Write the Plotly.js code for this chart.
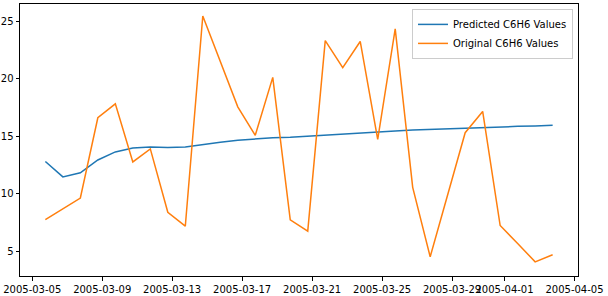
<!DOCTYPE html>
<html>
<head>
<meta charset="utf-8">
<script src="https://cdn.plot.ly/plotly-3.0.1.min.js"></script>
<style>html,body{margin:0;padding:0;background:#fff;}#chart{width:608px;height:296px;}</style>
</head>
<body>
<div id="chart"></div>
<script>
const dates = [
  '2005-03-05 18:00','2005-03-06 18:00','2005-03-07 18:00','2005-03-08 18:00','2005-03-09 18:00',
  '2005-03-10 18:00','2005-03-11 18:00','2005-03-12 18:00','2005-03-13 18:00','2005-03-14 18:00',
  '2005-03-15 18:00','2005-03-16 18:00','2005-03-17 18:00','2005-03-18 18:00','2005-03-19 18:00',
  '2005-03-20 18:00','2005-03-21 18:00','2005-03-22 18:00','2005-03-23 18:00','2005-03-24 18:00',
  '2005-03-25 18:00','2005-03-26 18:00','2005-03-27 18:00','2005-03-28 18:00','2005-03-29 18:00',
  '2005-03-30 18:00','2005-03-31 18:00','2005-04-01 18:00','2005-04-02 18:00','2005-04-03 18:00'
];
const predicted = [
  12.79, 11.45, 11.80, 12.92, 13.62, 13.96, 14.05, 14.00, 14.05, 14.28,
  14.45, 14.63, 14.77, 14.86, 14.89, 14.97, 15.06, 15.15, 15.26, 15.35,
  15.43, 15.52, 15.58, 15.64, 15.70, 15.73, 15.78, 15.84, 15.87, 15.93
];
const original = [
  7.73, 8.66, 9.61, 16.59, 17.80, 12.75, 13.88, 8.37, 7.16, 25.44,
  21.53, 17.54, 15.06, 20.10, 7.71, 6.73, 23.30, 20.94, 23.22, 14.71,
  24.32, 10.54, 4.50, 9.91, 15.29, 17.14, 7.22, 5.66, 4.06, 4.68
];
const xTickVals = ['2005-03-05','2005-03-09','2005-03-13','2005-03-17','2005-03-21','2005-03-25','2005-03-29','2005-04-01','2005-04-05'];
const xTickText = ['2005-03-05','2005-03-09','2005-03-13','2005-03-17','2005-03-21','2005-03-25','2005-03-29','2005-04-01','2005-04-05'];
const yTickVals = [5, 10, 15, 20, 25];

const traces = [
  {x: dates, y: predicted, type: 'scatter', mode: 'lines', name: 'Predicted C6H6 Values',
   line: {color: '#1f77b4', width: 1.5}},
  {x: dates, y: original, type: 'scatter', mode: 'lines', name: 'Original C6H6 Values',
   line: {color: '#ff7f0e', width: 1.5}}
];
const axisCommon = {
  showline: true, linecolor: '#000', linewidth: 1, mirror: true,
  ticks: 'outside', ticklen: 3.5, tickwidth: 1, tickcolor: '#000',
  showgrid: false, zeroline: false, automargin: false,
  tickfont: {family: 'DejaVu Sans', size: 10, color: '#000'}
};
const layout = {
  width: 608, height: 296,
  margin: {l: 20, r: 30, t: 4, b: 20},
  paper_bgcolor: '#fff', plot_bgcolor: '#fff',
  font: {family: 'DejaVu Sans', size: 10, color: '#000'},
  showlegend: true,
  legend: {x: 0.991, y: 0.982, xanchor: 'right', yanchor: 'top',
    bgcolor: 'rgba(255,255,255,0.8)', bordercolor: '#cccccc', borderwidth: 1,
    tracegroupgap: 0, itemwidth: 30,
    font: {family: 'DejaVu Sans', size: 10, color: '#000'}},
  xaxis: Object.assign({}, axisCommon, {
    type: 'date', range: ['2005-03-04 07:12', '2005-04-05 04:48'],
    tickmode: 'array', tickvals: xTickVals, ticktext: xTickText, tickangle: 0
  }),
  yaxis: Object.assign({}, axisCommon, {
    range: [2.83, 26.48], tickmode: 'array', tickvals: yTickVals
  })
};
Plotly.newPlot('chart', traces, layout, {displayModeBar: false, staticPlot: true});
</script>
</body>
</html>
